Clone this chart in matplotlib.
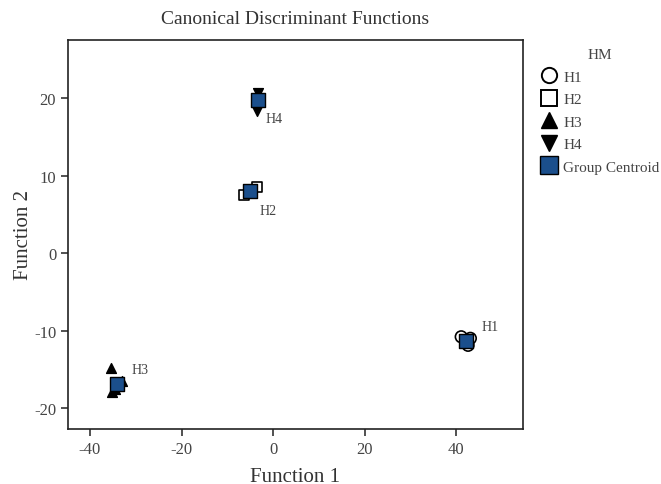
import matplotlib
matplotlib.use("Agg")
import matplotlib.pyplot as plt
from matplotlib.lines import Line2D

plt.rcParams['font.family'] = ['Liberation Serif', 'DejaVu Serif']

# Data
h1_x = [41.1, 42.6, 43.1]
h1_y = [-10.8, -11.9, -11.0]
h2_x = [-6.3, -3.5]
h2_y = [7.5, 8.5]
h3_x = [-35.4, -35.2, -33.0, -34.6]
h3_y = [-14.8, -17.9, -16.5, -17.6]
h4_x = [-3.3, -3.6]
h4_y = [20.6, 18.3]
centroid_x = [42.2, -5.0, -34.1, -3.3]
centroid_y = [-11.4, 8.0, -16.9, 19.7]
centroid_labels = ["H1", "H2", "H3", "H4"]
label_offsets = [(3.3, 1.9), (2.1, -2.5), (3.2, 1.9), (1.6, -2.3)]

x_ticks = [-40, -20, 0, 20, 40]
y_ticks = [-20, -10, 0, 10, 20]

blue = "#1b4f8c"

fig = plt.figure(figsize=(6.61, 4.85), dpi=100)
ax = fig.add_axes([68/661, 1-430/485, (523-68)/661, (430-41)/485])

ax.scatter(h1_x, h1_y, marker='o', s=70, facecolors='none', edgecolors='black', linewidths=1.2, zorder=3)
ax.scatter(h2_x, h2_y, marker='s', s=60, facecolors='white', edgecolors='black', linewidths=1.2, zorder=3)
ax.scatter(h3_x, h3_y, marker='^', s=50, color='black', zorder=3)
ax.scatter(h4_x, h4_y, marker='v', s=50, color='black', zorder=3)
ax.scatter(centroid_x, centroid_y, marker='s', s=95, color=blue, edgecolors='black', linewidths=1.0, zorder=4)

for cx, cy, lab, (dx, dy) in zip(centroid_x, centroid_y, centroid_labels, label_offsets):
    ax.text(cx + dx, cy + dy, lab, fontsize=10, color='#444444', ha='left', va='center')

ax.set_xlim(-44.8, 54.6)
ax.set_ylim(-22.7, 27.5)
ax.set_xticks(x_ticks)
ax.set_yticks(y_ticks)
ax.set_xticklabels([str(v) for v in x_ticks])
ax.set_yticklabels([str(v) for v in y_ticks])
ax.tick_params(direction='out', length=5, width=1.2, labelsize=12, labelcolor='#444444', colors='#333333')
for sp in ax.spines.values():
    sp.set_linewidth(1.2)
    sp.set_color('#222222')

ax.set_xlabel("Function 1", fontsize=15, color='#333333', labelpad=7)
ax.set_ylabel("Function 2", fontsize=15, color='#333333', labelpad=1)
fig.text((68+523)/2/661, 1-19/485, "Canonical Discriminant Functions", fontsize=14,
         color='#333333', ha='center', va='center')

handles = [
    Line2D([], [], marker='o', linestyle='none', markersize=11, markerfacecolor='none', markeredgecolor='black', markeredgewidth=1.4),
    Line2D([], [], marker='s', linestyle='none', markersize=11, markerfacecolor='white', markeredgecolor='black', markeredgewidth=1.4),
    Line2D([], [], marker='^', linestyle='none', markersize=11, color='black'),
    Line2D([], [], marker='v', linestyle='none', markersize=11, color='black'),
    Line2D([], [], marker='s', linestyle='none', markersize=12.5, markerfacecolor=blue, markeredgecolor='black'),
]
leg = fig.legend(handles, ["H1", "H2", "H3", "H4", "Group Centroid"], title="HM",
                 loc='upper left', bbox_to_anchor=(541/661, 1-49/485), frameon=False,
                 fontsize=11, title_fontsize=11, handletextpad=0.35, labelspacing=0.58,
                 handlelength=1.1, borderpad=0, borderaxespad=0)
for t in leg.get_texts():
    t.set_color('#444444')
leg.get_title().set_color('#444444')

fig.savefig("out.png", dpi=100)
